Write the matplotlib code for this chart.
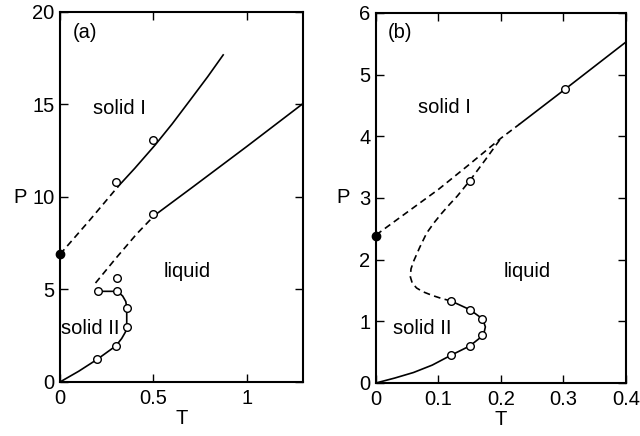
import matplotlib
matplotlib.use('Agg')
import matplotlib.pyplot as plt

plt.rcParams['font.family'] = ['Liberation Sans', 'DejaVu Sans']
FS = 14.5
plt.rcParams['font.size'] = FS

# ---- panel (a) ----
a_sol1_dash_T = [0, 0.16, 0.31]
a_sol1_dash_P = [6.9, 8.76, 10.56]
a_sol1_T = [0.31, 0.4, 0.508, 0.6, 0.695, 0.79, 0.873]
a_sol1_P = [10.56, 11.55, 12.8, 13.95, 15.22, 16.5, 17.68]

a_melt_dash_T = [0.19, 0.3, 0.41, 0.505]
a_melt_dash_P = [5.35, 6.7, 8.0, 9.0]
a_melt_T = [0.505, 0.713, 0.998, 1.3]
a_melt_P = [9.0, 10.56, 12.72, 15.05]

a_sol2_T = [0, 0.1, 0.2, 0.3, 0.33, 0.35, 0.357, 0.357, 0.352, 0.335, 0.307, 0.205]
a_sol2_P = [0, 0.58, 1.23, 1.96, 2.35, 2.7, 2.96, 4.02, 4.35, 4.65, 4.9, 4.9]

a_pts_T = [0.2, 0.3, 0.357, 0.357, 0.307, 0.205, 0.307, 0.5, 0.3, 0.5]
a_pts_P = [1.23, 1.96, 2.96, 4.02, 4.9, 4.9, 5.64, 9.1, 10.8, 13.08]
a_triple = (0, 6.9)

# ---- panel (b) ----
b_upper_dash_T = [0, 0.05, 0.1, 0.15, 0.2, 0.23]
b_upper_dash_P = [2.4, 2.77, 3.14, 3.55, 3.97, 4.2]
b_upper_T = [0.23, 0.302, 0.4]
b_upper_P = [4.2, 4.76, 5.53]

b_melt_dash_T = [0.12, 0.105, 0.09, 0.075, 0.065, 0.058, 0.055, 0.056, 0.06,
                 0.07, 0.081, 0.093, 0.105, 0.118, 0.13, 0.15, 0.175, 0.2]
b_melt_dash_P = [1.33, 1.37, 1.42, 1.48, 1.54, 1.62, 1.72, 1.85, 1.97,
                 2.2, 2.43, 2.6, 2.75, 2.9, 3.03, 3.28, 3.62, 3.97]

b_sol2_T = [0, 0.03, 0.06, 0.09, 0.12, 0.15, 0.165, 0.173, 0.175, 0.172, 0.165, 0.15, 0.12]
b_sol2_P = [0, 0.08, 0.17, 0.29, 0.45, 0.6, 0.72, 0.82, 0.91, 1.0, 1.08, 1.19, 1.33]

b_pts_T = [0.12, 0.15, 0.17, 0.17, 0.15, 0.12, 0.15, 0.302]
b_pts_P = [1.33, 1.19, 1.04, 0.78, 0.6, 0.45, 3.28, 4.76]
b_triple = (0, 2.39)

fig = plt.figure(figsize=(6.4, 4.36), dpi=100)
ax1 = fig.add_axes([0.09375, 0.1239, 0.3797, 0.8486])
ax2 = fig.add_axes([0.5875, 0.1216, 0.3906, 0.8486])

lw = 1.2
dash = (4, 2.6)


def style(ax, xt, xl, yt, yl):
    ax.set_xticks(xt)
    ax.set_xticklabels(xl)
    ax.set_yticks(yt)
    ax.set_yticklabels(yl)
    ax.tick_params(direction='in', length=5.5, width=1, top=True, right=True,
                   pad=5, labelsize=FS)
    ax.tick_params(axis='y', pad=4)
    for s in ax.spines.values():
        s.set_linewidth(1.5)
    ax.set_xlabel('T', fontsize=FS, labelpad=1)


def draw_pts(ax, T, P, triple):
    ax.plot(T, P, 'o', ms=5.5, mfc='white', mec='black', mew=1.0, zorder=4)
    ax.plot([triple[0]], [triple[1]], 'o', ms=6, color='black', clip_on=False, zorder=5)


# panel (a)
ax1.plot(a_sol1_dash_T, a_sol1_dash_P, color='black', lw=lw, dashes=dash)
ax1.plot(a_sol1_T, a_sol1_P, color='black', lw=lw)
ax1.plot(a_melt_dash_T, a_melt_dash_P, color='black', lw=lw, dashes=dash)
ax1.plot(a_melt_T, a_melt_P, color='black', lw=lw)
ax1.plot(a_sol2_T, a_sol2_P, color='black', lw=lw)
draw_pts(ax1, a_pts_T, a_pts_P, a_triple)
ax1.set_xlim(0, 1.3)
ax1.set_ylim(0, 20)
style(ax1, [0, 0.5, 1], ['0', '0.5', '1'], [0, 5, 10, 15, 20],
      ['0', '5', '10', '15', '20'])
ax1.text(0.134, 18.9, '(a)', ha='center', va='center')
ax1.text(0.32, 14.8, 'solid I', ha='center', va='center')
ax1.text(0.68, 5.95, 'liquid', ha='center', va='center')
ax1.text(0.16, 2.9, 'solid II', ha='center', va='center')

# panel (b)
ax2.plot(b_upper_dash_T, b_upper_dash_P, color='black', lw=lw, dashes=dash)
ax2.plot(b_upper_T, b_upper_P, color='black', lw=lw)
ax2.plot(b_melt_dash_T, b_melt_dash_P, color='black', lw=lw, dashes=dash)
ax2.plot(b_sol2_T, b_sol2_P, color='black', lw=lw)
draw_pts(ax2, b_pts_T, b_pts_P, b_triple)
ax2.set_xlim(0, 0.4)
ax2.set_ylim(0, 6)
style(ax2, [0, 0.1, 0.2, 0.3, 0.4], ['0', '0.1', '0.2', '0.3', '0.4'],
      [0, 1, 2, 3, 4, 5, 6], ['0', '1', '2', '3', '4', '5', '6'])
ax2.text(0.038, 5.69, '(b)', ha='center', va='center')
ax2.text(0.11, 4.46, 'solid I', ha='center', va='center')
ax2.text(0.242, 1.8, 'liquid', ha='center', va='center')
ax2.text(0.074, 0.89, 'solid II', ha='center', va='center')

fig.text(0.031, 0.548, 'P', ha='center', va='center', fontsize=FS)
fig.text(0.536, 0.546, 'P', ha='center', va='center', fontsize=FS)

fig.savefig('out.png', dpi=100)
